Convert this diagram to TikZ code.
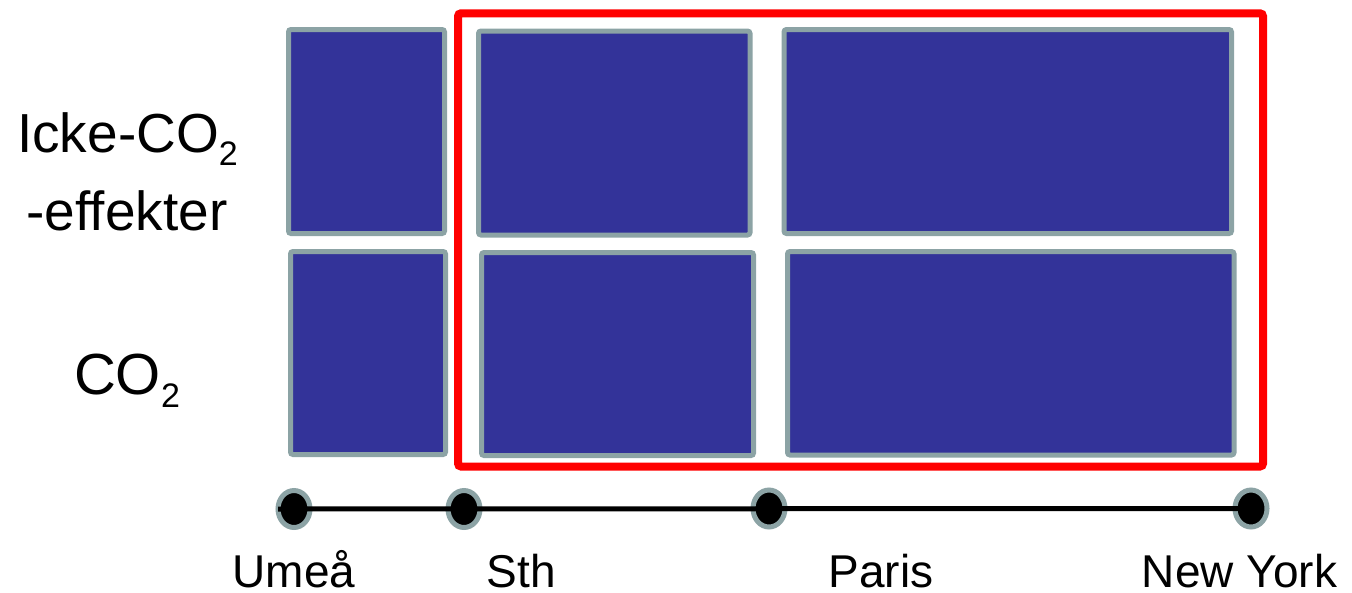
\documentclass[tikz,border=0pt]{standalone}
\usepackage{fontspec}
\setmainfont[Ligatures=NoCommon]{Liberation Sans}
\usetikzlibrary{shapes.geometric}
\definecolor{cellfill}{HTML}{333399}
\definecolor{celledge}{HTML}{8CA3A5}
\definecolor{routered}{HTML}{FF0000}
\newcommand\subtwo{{\fontsize{34}{34}\selectfont\raisebox{-13pt}{2}}}
\begin{document}
\begin{tikzpicture}[x=1pt,y=-1pt,
  cell/.style={draw=celledge, fill=cellfill, line width=5pt, rounded corners=2.5pt,
    inner sep=0pt, outer sep=0pt, anchor=north west},
  frame/.style={draw=routered, line width=8pt, rounded corners=3pt,
    inner sep=0pt, outer sep=0pt, anchor=north west},
  stop/.style={ellipse, draw=celledge, fill=black, line width=5pt,
    minimum width=32pt, minimum height=37pt, inner sep=0pt, outer sep=0pt},
  track/.style={draw=black, line width=5pt},
  rowlabel/.style={anchor=base, inner sep=0pt, font=\fontsize{55}{66}\selectfont},
  citylabel/.style={anchor=base, inner sep=0pt, font=\fontsize{46}{55}\selectfont}]
\useasboundingbox (0,0) rectangle (1352,592);

% upper row: non-CO2 effects
\node[cell, minimum width=156pt, minimum height=204pt] (tu) at (288.5,29.5) {};
\node[cell, minimum width=271.5pt, minimum height=204pt] (ts) at (478.5,31) {};
\node[cell, minimum width=447.5pt, minimum height=204pt] (tp) at (784,29.5) {};

% lower row: CO2
\node[cell, minimum width=155pt, minimum height=203pt] (bu) at (290.5,251.5) {};
\node[cell, minimum width=272pt, minimum height=203pt] (bs) at (481.5,252.5) {};
\node[cell, minimum width=446.5pt, minimum height=203.5pt] (bp) at (787.5,251.5) {};

% highlighted part of the trip
\node[frame, minimum width=805pt, minimum height=453.2pt] (route) at (458,13.3) {};

% timeline with stops
\node[stop] (umea) at (294,509) {};
\node[stop] (sth) at (464,509) {};
\node[stop] (paris) at (769,508.5) {};
\node[stop] (ny) at (1251,508.5) {};
\draw[track] (umea.west) -- (ny.center);

% row labels
\node[rowlabel] (lblnon) at (127.5,152) {Icke-CO\subtwo};
\node[rowlabel] (lbleff) at (127,230) {-effekter};
\node[rowlabel, font=\fontsize{58}{68}\selectfont] (lblco) at (127,394) {CO\subtwo};

% stop labels
\node[citylabel] (tumea) at (294,587) {Umeå};
\node[citylabel] (tsth) at (521.5,587) {Sth};
\node[citylabel] (tparis) at (881,587) {Paris};
\node[citylabel] (tny) at (1239.5,587) {New York};
\end{tikzpicture}
\end{document}
